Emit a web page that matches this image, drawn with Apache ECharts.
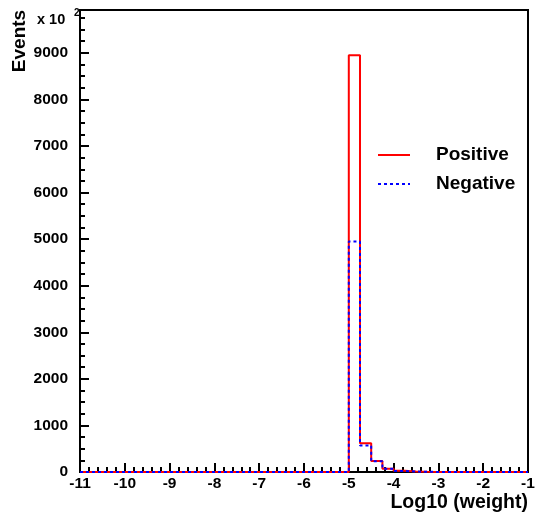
<!DOCTYPE html>
<html>
<head>
<meta charset="utf-8">
<script src="https://cdn.jsdelivr.net/npm/echarts@6/dist/echarts.min.js"></script>
<style>html,body{margin:0;padding:0;background:#fff}#c{width:535px;height:512px}</style>
</head>
<body>
<div id="c"></div>
<script>
// Bin edges (Log10 weight), 40 bins of 0.25 from -11 to -1
var binEdges = [-11,-10.75,-10.5,-10.25,-10,-9.75,-9.5,-9.25,-9,-8.75,-8.5,-8.25,-8,-7.75,-7.5,-7.25,-7,-6.75,-6.5,-6.25,-6,-5.75,-5.5,-5.25,-5,-4.75,-4.5,-4.25,-4,-3.75,-3.5,-3.25,-3,-2.75,-2.5,-2.25,-2,-1.75,-1.5,-1.25,-1];
// Events (x 10^2) per bin
var positive = [0,0,0,0,0,0,0,0,0,0,0,0,0,0,0,0,0,0,0,0,0,0,0,0,8950,620,236,72,25,10,5,2,0,0,0,0,0,0,0,0];
var negative = [0,0,0,0,0,0,0,0,0,0,0,0,0,0,0,0,0,0,0,0,0,0,0,0,4950,570,232,70,24,10,5,2,0,0,0,0,0,0,0,0];
var yTicks = [0,1000,2000,3000,4000,5000,6000,7000,8000,9000];
var seriesNames = ['Positive', 'Negative'];

function stepData(vals){
  var d = [];
  for (var i = 0; i < vals.length; i++) d.push([binEdges[i], vals[i]]);
  d.push([binEdges[binEdges.length-1], vals[vals.length-1]]);
  return d;
}
var F = '"Liberation Sans", Arial, sans-serif';
var chart = echarts.init(document.getElementById('c'));
chart.setOption({
  animation: false,
  grid: {left: 80, right: 7, top: 10, bottom: 40, show: true, borderColor: '#000', borderWidth: 2, backgroundColor: 'transparent', containLabel: false, outerBoundsMode: 'none'},
  xAxis: {
    type: 'value', min: -11, max: -1, interval: 1,
    axisLine: {show: true, lineStyle: {color: '#000', width: 2}},
    axisTick: {show: true, inside: true, length: 9, lineStyle: {color: '#000', width: 2}},
    minorTick: {show: true, splitNumber: 5, length: 5, lineStyle: {color: '#000', width: 2}},
    splitLine: {show: false},
    axisLabel: {color: '#000', fontFamily: F, fontWeight: 'bold', fontSize: 15.5, margin: 4,
      formatter: function(v){ return String(v); }}
  },
  yAxis: [{
    type: 'value', min: 0, max: 9920, interval: 1000,
    axisLine: {show: true, lineStyle: {color: '#000', width: 2}},
    axisTick: {show: true, inside: true, length: 9, lineStyle: {color: '#000', width: 2}},
    splitLine: {show: false},
    axisLabel: {color: '#000', fontFamily: F, fontWeight: 'bold', fontSize: 15.5, margin: 12,
      formatter: function(v){ return yTicks.indexOf(v) >= 0 ? String(v) : ''; }}
  },{
    type: 'value', min: 0, max: 9920, interval: 250, position: 'left',
    axisLine: {show: false},
    axisTick: {show: true, inside: true, length: 5, lineStyle: {color: '#000', width: 2}},
    splitLine: {show: false},
    axisLabel: {show: false}
  }],
  series: [{
    name: seriesNames[0], type: 'line', step: 'end', symbol: 'none', yAxisIndex: 0,
    lineStyle: {color: '#ff0000', width: 2},
    data: stepData(positive), z: 2
  },{
    name: seriesNames[1], type: 'line', step: 'end', symbol: 'none', yAxisIndex: 0,
    lineStyle: {color: '#0000ff', width: 2, type: [3,3]},
    data: stepData(negative), z: 3
  }],
  graphic: [
    {type: 'text', x: 20, y: 41, rotation: Math.PI/2, style: {text: 'Events', fill: '#000', font: 'bold 19px ' + F, align: 'center', verticalAlign: 'middle'}},
    {type: 'text', x: 37, y: 20, style: {text: 'x 10', fill: '#000', font: 'bold 14.5px ' + F, verticalAlign: 'middle'}},
    {type: 'text', x: 74, y: 13, style: {text: '2', fill: '#000', font: 'bold 10px ' + F, verticalAlign: 'middle'}},
    {type: 'text', x: 528, y: 503, style: {text: 'Log10 (weight)', fill: '#000', font: 'bold 19.5px ' + F, align: 'right', verticalAlign: 'middle'}},
    {type: 'line', shape: {x1: 378, y1: 155, x2: 410, y2: 155}, style: {stroke: '#ff0000', lineWidth: 2}},
    {type: 'text', x: 436, y: 155, style: {text: seriesNames[0], fill: '#000', font: 'bold 19px ' + F, verticalAlign: 'middle'}},
    {type: 'line', shape: {x1: 378, y1: 184, x2: 410, y2: 184}, style: {stroke: '#0000ff', lineWidth: 2, lineDash: [3,3]}},
    {type: 'text', x: 436, y: 184, style: {text: seriesNames[1], fill: '#000', font: 'bold 19px ' + F, verticalAlign: 'middle'}}
  ]
});
</script>
</body>
</html>
